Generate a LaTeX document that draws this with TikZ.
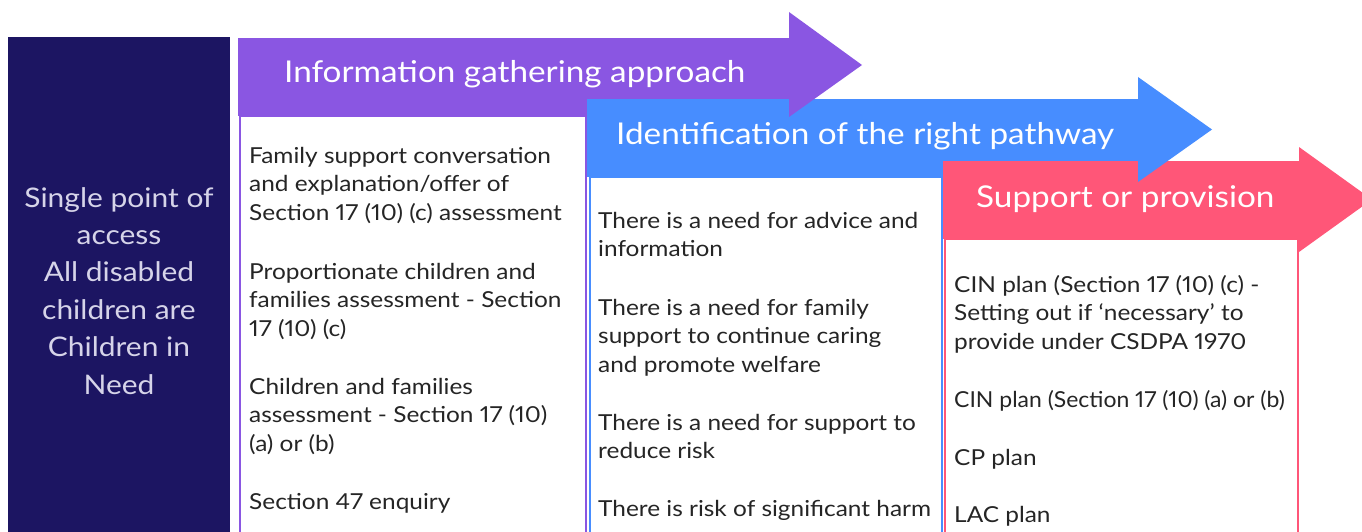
\documentclass[tikz,border=0pt]{standalone}
\usepackage{graphicx}
\usepackage{fontspec}
\setmainfont[FakeStretch=1.11,Numbers=Proportional]{Lato}
\definecolor{navy}{HTML}{1C1562}
\definecolor{violet}{HTML}{8A56E2}
\definecolor{sky}{HTML}{478DFF}
\definecolor{rose}{HTML}{FF5678}
\definecolor{ink}{HTML}{252525}
\definecolor{mist}{HTML}{D6D4E9}
% stacked lines whose reference point is the first baseline
\newcommand\leftlines[1]{\begin{tabular}[t]{@{}l@{}}#1\end{tabular}}
\newcommand\midlines[1]{\begin{tabular}[t]{@{}c@{}}#1\end{tabular}}
\begin{document}
\begin{tikzpicture}[x=1pt,y=-1pt,
  bodytext/.style={anchor=base west,inner sep=0pt,text=ink,
    font=\fontsize{22}{28.7}\selectfont},
  headtext/.style={anchor=base west,inner sep=0pt,text=white,
    font=\fontsize{30}{36}\selectfont},
  accesstext/.style={anchor=base,inner sep=0pt,text=mist,
    font=\fontsize{27}{37.4}\selectfont},
  column/.style={draw=#1,line width=2pt,fill=white}]
\useasboundingbox (0,0) rectangle (1362,532);
\clip (0,0) rectangle (1362,532);

% single point of access
\fill[navy] (8,37) rectangle (230,540);
\node[accesstext] (access) at (119,207) {\midlines{Single point of\\access\\All disabled\\children are\\Children in\\Need}};

% stage 1: information gathering
\fill[violet] (238,38) rectangle (789.5,116);
\draw[column=violet] (239.5,116) rectangle (586,545);

% stage 2: identification of the pathway
\fill[sky] (587,99) rectangle (1138.5,177);
\draw[column=sky] (590,177) rectangle (942,545);
\fill[violet] (789,12) -- (862,65) -- (789,117) -- cycle;

% stage 3: support or provision
\fill[rose] (943,161) rectangle (1299.5,238.5);
\draw[column=rose] (944.5,238.5) rectangle (1297.5,545);
\fill[sky] (1138,77) -- (1212,129.5) -- (1138,182) -- cycle;
\fill[rose] (1299,147) -- (1372,199.5) -- (1299,252) -- cycle;

% headings
\node[headtext] (h1) at (284,83) {Information gathering approach};
\node[headtext] (h2) at (616,144) {Identification of the right pathway};
\node[headtext] (h3) at (976,207) {Support or provision};

% information gathering items
\node[bodytext] (a1) at (249,163) {\leftlines{Family support conversation\\and explanation/offer of\\Section 17 (10) (c) assessment}};
\node[bodytext] (a2) at (249,279) {\leftlines{Proportionate children and\\families assessment - Section\\17 (10) (c)}};
\node[bodytext] (a3) at (249,394) {\leftlines{Children and families\\assessment - Section 17 (10)\\(a) or (b)}};
\node[bodytext] (a4) at (249,509) {Section 47 enquiry};

% pathway items
\node[bodytext] (b1) at (598,228) {\leftlines{There is a need for advice and\\information}};
\node[bodytext] (b2) at (598,315) {\leftlines{There is a need for family\\support to continue caring\\and promote welfare}};
\node[bodytext] (b3) at (598,430) {\leftlines{There is a need for support to\\reduce risk}};
\node[bodytext] (b4) at (598,516) {There is risk of significant harm};

% provision items (the long single line is set a little narrower to fit its column)
\node[bodytext] (c1) at (954,292) {\leftlines{CIN plan (Section 17 (10) (c) -\\Setting out if ‘necessary’ to\\provide under CSDPA 1970}};
\node[bodytext] (c2) at (954,407) {\scalebox{0.94}[1]{CIN plan (Section 17 (10) (a) or (b)}};
\node[bodytext] (c3) at (954,465) {CP plan};
\node[bodytext] (c4) at (954,522) {LAC plan};
\end{tikzpicture}
\end{document}
